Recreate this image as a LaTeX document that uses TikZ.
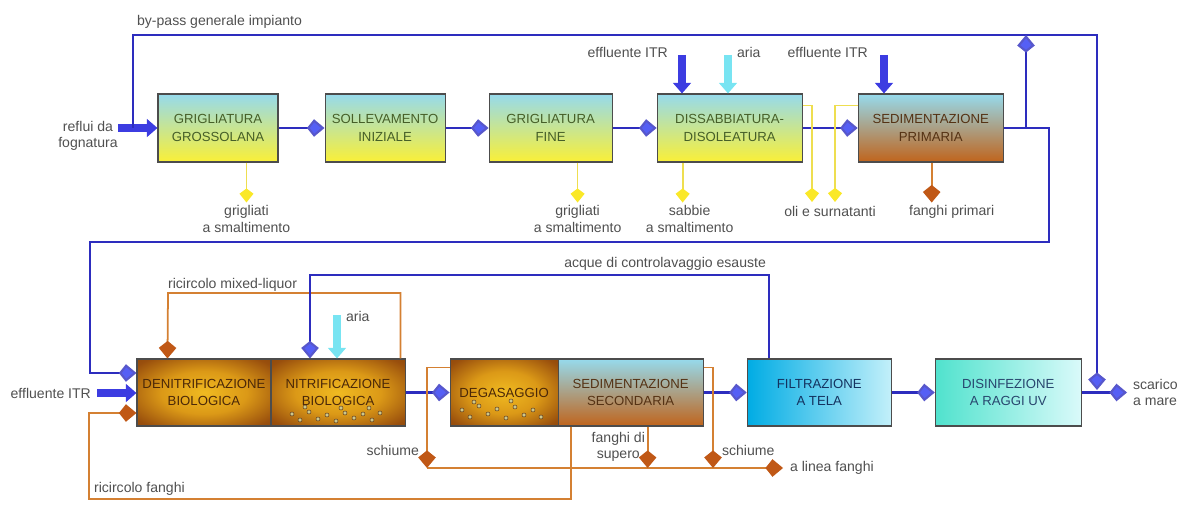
\documentclass[tikz,border=0pt]{standalone}
\usepackage{fontspec}
\setmainfont{Liberation Sans}
\usetikzlibrary{positioning, calc, arrows.meta}

\definecolor{flowblue}{RGB}{45,45,190}
\definecolor{tipblue}{RGB}{85,95,245}
\definecolor{fatblue}{RGB}{60,60,225}
\definecolor{aircyan}{RGB}{120,228,242}
\definecolor{sludge}{RGB}{212,128,50}
\definecolor{tipsludge}{RGB}{192,88,22}
\definecolor{waste}{RGB}{238,222,80}
\definecolor{tipwaste}{RGB}{250,232,40}
\definecolor{lbl}{RGB}{80,80,80}
\definecolor{skytop}{RGB}{150,218,236}
\definecolor{yelbot}{RGB}{250,240,55}
\definecolor{olivetxt}{RGB}{70,95,40}
\definecolor{sedmid}{RGB}{210,165,110}
\definecolor{sedbot}{RGB}{192,100,28}
\definecolor{sedtxt}{RGB}{85,50,20}
\definecolor{biotxt}{RGB}{75,40,8}
\definecolor{filtl}{RGB}{0,172,228}
\definecolor{filtr}{RGB}{195,240,250}
\definecolor{filttxt}{RGB}{20,50,95}
\definecolor{uvl}{RGB}{80,226,205}
\definecolor{uvr}{RGB}{218,250,250}
\definecolor{uvtxt}{RGB}{40,70,110}
\definecolor{bubble}{RGB}{205,200,140}

\pgfdeclareradialshading{biogold}{\pgfpoint{0bp}{0bp}}{%
  rgb(0bp)=(0.94,0.73,0.13); rgb(16bp)=(0.86,0.60,0.09);
  rgb(32bp)=(0.60,0.31,0.05); rgb(50bp)=(0.45,0.21,0.03)}

\begin{document}
\begin{tikzpicture}[x=0.2mm, y=-0.2mm]
  \newcommand\stagegap{8.6mm}
  \newcommand\wastelen{40}

  \tikzset{stage/.style={draw=black!70, line width=0.6pt, minimum height=13.6mm, align=center, inner sep=1pt, font=\fontsize{7.5}{10}\selectfont}}
  \tikzset{pretreat/.style={stage, top color=skytop, bottom color=yelbot, text=olivetxt}}
  \tikzset{settler/.style={stage, top color=skytop, middle color=sedmid, bottom color=sedbot, text=sedtxt}}
  \tikzset{bio/.style={stage, shading=biogold, text=biotxt}}
  \tikzset{lab/.style={font=\fontsize{8}{9.5}\selectfont, text=lbl, inner sep=1pt, align=center}}
  \tikzset{flow/.style={draw=flowblue, line width=1.2pt}}
  \tikzset{flowin/.style={flow, -{Kite[length=10pt, width=10pt, inset=4pt, fill=tipblue, color=flowblue!80]}}}
  \tikzset{sl/.style={draw=sludge, line width=1pt}}
  \tikzset{slin/.style={sl, -{Kite[length=10pt, width=10pt, inset=4pt, fill=tipsludge, color=tipsludge]}}}
  \tikzset{wst/.style={draw=waste, line width=1pt, -{Kite[length=8pt, width=8pt, inset=3pt, fill=tipwaste, color=tipwaste]}}}
  \tikzset{fat/.style={draw=#1, line width=4.5pt, -{Triangle[length=6pt, width=10pt]}}}

  \useasboundingbox (0,0) rectangle (1182,506);

  % pretreatment line
  \node[pretreat, minimum width=24mm] at (218,128) (grossa) {GRIGLIATURA\\GROSSOLANA};
  \node[pretreat, minimum width=24mm, right=9.2mm of grossa] (soll) {SOLLEVAMENTO\\INIZIALE};
  \node[pretreat, minimum width=24.6mm, right=\stagegap of soll] (fine) {GRIGLIATURA\\FINE};
  \node[pretreat, minimum width=29mm, right=8.8mm of fine] (dissab) {DISSABBIATURA-\\DISOLEATURA};
  \node[settler, minimum width=29mm, right=11mm of dissab] (sedprim) {SEDIMENTAZIONE\\PRIMARIA};
  \foreach \a/\b in {grossa/soll, soll/fine, fine/dissab, dissab/sedprim}{
    \draw[flowin] (\a) -- (\b);
  }

  % biological line
  \node[bio, minimum width=26.8mm, minimum height=13.4mm] at (204,392.5) (denit) {DENITRIFICAZIONE\\BIOLOGICA};
  \node[bio, minimum width=26.8mm, minimum height=13.4mm, right=-0.2mm of denit] (nitr) {NITRIFICAZIONE\\BIOLOGICA};
  \node[bio, minimum width=21.6mm, minimum height=13.4mm, right=8.8mm of nitr] (degas) {DEGASAGGIO};
  \node[settler, minimum width=29mm, minimum height=13.4mm, right=-0.2mm of degas] (sedsec) {SEDIMENTAZIONE\\SECONDARIA};
  \node[stage, minimum width=28.8mm, minimum height=13.4mm, left color=filtl, right color=filtr, text=filttxt, right=\stagegap of sedsec] (filt) {FILTRAZIONE\\A TELA};
  \node[stage, minimum width=29.2mm, minimum height=13.4mm, left color=uvl, right color=uvr, text=uvtxt, right=\stagegap of filt] (uv) {DISINFEZIONE\\A RAGGI UV};
  \foreach \a/\b in {nitr/degas, sedsec/filt, filt/uv}{
    \draw[flowin] (\a) -- (\b);
  }
  % bubbles
  \foreach \bx/\by in {292/414, 300/420, 309/412, 318/419, 327/415, 336/421, 345/413, 354/418, 363/414, 372/420, 380/413, 305/407, 341/408, 369/408,
                       462/410, 470/417, 479/406, 488/414, 497/409, 506/418, 515/407, 524/415, 533/410, 541/417, 474/402, 511/401}{
    \fill[bubble, draw=brown!50!black, line width=0.3pt] (\bx,\by) circle (2);
  }

  % inflow and general by-pass
  \coordinate (refin) at (118,128);
  \coordinate (bp-l) at (133,128);
  \coordinate (bp-r) at (1097,35);
  \coordinate (out-j) at (1097,390);
  \node[lab] at (88,136) (lab-reflui) {reflui da\\fognatura};
  \draw[fat=fatblue] (refin) -- (grossa.west);
  \draw[flowin] (bp-l) |- (bp-r) -- (out-j);
  \node[lab, anchor=west] at (135,22) (lab-bp) {by-pass generale impianto};

  % ITR effluent and air
  \coordinate (itr1) at (682,55);
  \coordinate (air1) at (728,55);
  \coordinate (itr2) at (884,55);
  \draw[fat=fatblue] (itr1) -- (itr1 |- dissab.north);
  \draw[fat=aircyan] (air1) -- (air1 |- dissab.north);
  \draw[fat=fatblue] (itr2) -- (itr2 |- sedprim.north);
  \node[lab, anchor=east] at (670,52) (lab-itr1) {effluente ITR};
  \node[lab, anchor=west] at (735,52) (lab-air1) {aria};
  \node[lab, anchor=east] at (870,52) (lab-itr2) {effluente ITR};

  % screenings, sand, oils
  \draw[wst] ($(grossa.south west)+(89,0)$) -- ++(0,\wastelen) node[lab, below] (lab-gg) {grigliati\\a smaltimento};
  \draw[wst] ($(fine.south west)+(89,0)$) -- ++(0,\wastelen) node[lab, below] (lab-gf) {grigliati\\a smaltimento};
  \draw[wst] ($(dissab.south west)+(26,0)$) -- ++(0,\wastelen) node[lab, below, xshift=1.4mm] (lab-sab) {sabbie\\a smaltimento};
  \coordinate (oli1) at (812,202);
  \coordinate (oli2) at (835,202);
  \draw[wst] ($(dissab.north east)+(0,12)$) -| (oli1);
  \draw[wst] ($(sedprim.north west)+(0,12)$) -| (oli2);
  \node[lab, anchor=north] at (830,204) (lab-oli) {oli e surnatanti};
  \draw[slin] ($(sedprim.south west)+(74,0)$) -- ++(0,\wastelen) node[lab, below, xshift=4mm] (lab-fp) {fanghi primari};

  % primary effluent to biology
  \coordinate (sp-j) at (1026,128);
  \coordinate (ret-r) at (1049,242);
  \coordinate (ret-l) at (90,242);
  \draw[flowin] (sp-j) -- (sp-j |- bp-r);
  \draw[flowin] (sedprim.east) -| (ret-r) -- (ret-l) |- ($(denit.west)+(0,-19.5)$);

  % discharge
  \coordinate (scar) at (1127,392.5);
  \draw[flowin] (uv) -- (scar);
  \node[lab, anchor=west, align=left] at (1131,392.5) (lab-scar) {scarico\\a mare};

  % inflows to denitrification
  \coordinate (itr3) at (97,393);
  \draw[fat=fatblue] (itr3) -- (itr3 -| denit.west);
  \node[lab, anchor=east] at (93,393) (lab-itr3) {effluente ITR};
  \coordinate (rf-c) at (89,499);
  \draw[slin] ($(sedsec.south west)+(13,0)$) |- (rf-c) |- ($(denit.west)+(0,20.5)$);
  \node[lab, anchor=west] at (92,489) (lab-rf) {ricircolo fanghi};
  \coordinate (ml-c) at (168,293);
  \draw[slin] ($(nitr.north east)+(-5,0)$) |- (ml-c) -- ($(denit.north west)+(31,0)$);
  \node[lab, anchor=west] at (166,285) (lab-ml) {ricircolo mixed-liquor};

  % backwash water and air
  \coordinate (cw-c) at (310,275);
  \draw[flowin] ($(filt.north west)+(22,0)$) |- (cw-c) -- (cw-c |- nitr.north);
  \node[lab, anchor=east] at (768,264) (lab-cw) {acque di controlavaggio esauste};
  \coordinate (air2) at (337,315);
  \draw[fat=aircyan] (air2) -- (air2 |- nitr.north);
  \node[lab, anchor=west] at (344,316) (lab-air2) {aria};

  % scum and excess sludge
  \coordinate (col-l) at (427,468);
  \coordinate (col-r) at (783,468);
  \coordinate (fs) at ($(sedsec.south west)+(90,0)$);
  \coordinate (sch-r) at (713,468);
  \draw[slin] (col-l) -- (col-r);
  \draw[slin] ($(degas.north west)+(0,9)$) -| (col-l);
  \draw[slin] (fs) -- (fs |- col-l);
  \draw[slin] ($(sedsec.north east)+(0,9)$) -| (sch-r);
  \node[lab, anchor=east] at (421,450) (lab-sch1) {schiume};
  \node[lab, anchor=east] at (647,447) (lab-fs) {fanghi di\\supero};
  \node[lab, anchor=west] at (720,450) (lab-sch2) {schiume};
  \node[lab, anchor=west] at (788,468) (lab-lf) {a linea fanghi};
\end{tikzpicture}
\end{document}
